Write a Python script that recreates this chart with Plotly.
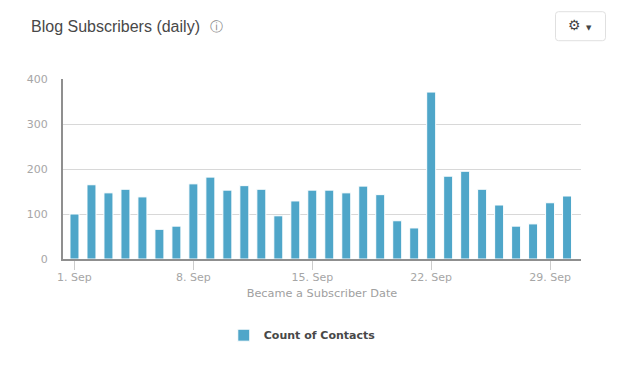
import plotly.graph_objects as go

days = [f"{d}. Sep" for d in range(1, 31)]
counts = [100, 165, 147, 155, 138, 66, 73, 167, 182, 153, 163, 155, 96, 129, 153,
          153, 147, 162, 143, 85, 69, 371, 184, 195, 155, 120, 73, 78, 125, 140]
tick_labels = ["1. Sep", "8. Sep", "15. Sep", "22. Sep", "29. Sep"]
series_name = "Count of Contacts"
x_title = "Became a Subscriber Date"
chart_title = "Blog Subscribers (daily)"

W, H = 621, 368
L, R, T, B = 62.5, 581, 78.8, 258.8
FONT = "DejaVu Sans"
px = lambda v: (v - L) / (R - L)
py = lambda v: (B - v) / (B - T)


def rounded(x0, y0, x1, y1, r):
    X0, X1 = px(x0), px(x1)
    Y0, Y1 = py(y0), py(y1)
    xr, yr = r / (R - L), r / (B - T)
    return (f"M {X0+xr} {Y0} L {X1-xr} {Y0} Q {X1} {Y0} {X1} {Y0-yr} "
            f"L {X1} {Y1+yr} Q {X1} {Y1} {X1-xr} {Y1} "
            f"L {X0+xr} {Y1} Q {X0} {Y1} {X0} {Y1+yr} "
            f"L {X0} {Y0-yr} Q {X0} {Y0} {X0+xr} {Y0} Z")


fig = go.Figure(go.Bar(
    x=days, y=counts, name=series_name, width=0.53,
    marker=dict(color="#4fa6c9", line=dict(color="#ffffff", width=1)),
    showlegend=True,
))
fig.update_layout(
    width=W, height=H, autosize=False,
    margin=dict(l=L, r=W - R, t=T, b=H - B),
    paper_bgcolor="white", plot_bgcolor="white",
    font=dict(family=FONT, color="#a6a6a6", size=11),
    title=dict(text=chart_title, x=31 / W, xanchor="left", y=1 - 26 / H, yanchor="middle",
               font=dict(family="Liberation Sans", size=16, color="#484848")),
    xaxis=dict(
        type="category", categoryorder="array", categoryarray=days,
        range=[-0.676, 29.82],
        tickmode="array", tickvals=tick_labels, ticktext=tick_labels,
        ticks="outside", ticklen=9, tickwidth=1, tickcolor="#cccccc",
        ticklabelstandoff=-2,
        tickfont=dict(size=11, color="#a6a6a6"),
        showgrid=False, zeroline=False,
        showline=True, linecolor="#8f8f8f", linewidth=2,
        title=dict(text=x_title, standoff=6, font=dict(size=11.3, color="#a0a0a0")),
    ),
    yaxis=dict(
        range=[0, 400], tickvals=[0, 100, 200, 300, 400],
        ticks="", ticklabelstandoff=11,
        tickfont=dict(size=11, color="#a6a6a6"),
        showgrid=True, gridcolor="#d8d8d8", gridwidth=1, zeroline=False,
        showline=True, linecolor="#8f8f8f", linewidth=2,
    ),
    legend=dict(
        orientation="h", x=px(302), xanchor="center", y=py(335), yanchor="middle",
        font=dict(size=11, color="#484848", weight="bold"),
        itemwidth=30, bgcolor="rgba(0,0,0,0)",
    ),
    shapes=[dict(type="path", xref="paper", yref="paper",
                 path=rounded(555.5, 11.5, 605.5, 40.5, 3),
                 line=dict(color="#e0e0e0", width=1), fillcolor="white")],
    annotations=[
        dict(text="ⓘ", xref="paper", yref="paper", x=px(216), y=py(26), showarrow=False,
             xanchor="center", yanchor="middle", font=dict(family=FONT, size=13, color="#888888")),
        dict(text="<b>⚙</b>", xref="paper", yref="paper", x=px(574), y=py(25), showarrow=False,
             xanchor="center", yanchor="middle", font=dict(family=FONT, size=14, color="#444444")),
        dict(text="▼", xref="paper", yref="paper", x=px(589), y=py(27.5), showarrow=False,
             xanchor="center", yanchor="middle", font=dict(family=FONT, size=7, color="#444444")),
    ],
)
fig.write_html("out.html", config=dict(displayModeBar=False),
               post_script="document.body.style.margin='0';")
